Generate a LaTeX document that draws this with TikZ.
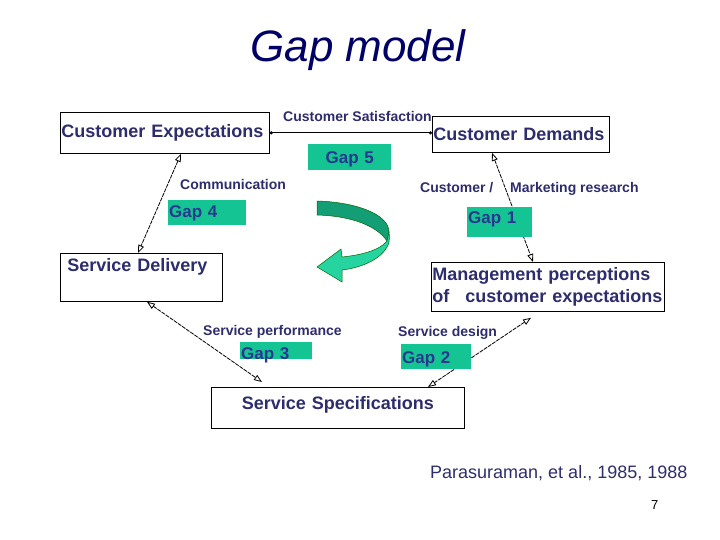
\documentclass[tikz,border=0pt]{standalone}
\usepackage{fontspec}
\setmainfont{Liberation Sans}
\usetikzlibrary{arrows.meta}
\definecolor{inkblue}{RGB}{45,45,110}
\definecolor{gapblue}{RGB}{40,55,145}
\definecolor{titleblue}{RGB}{0,0,102}
\definecolor{gapgreen}{RGB}{20,196,146}
\definecolor{darkteal}{RGB}{20,158,118}
\definecolor{lightteal}{RGB}{38,212,160}
\tikzset{>=Triangle}

\begin{document}
\begin{tikzpicture}[x=1pt,y=-1pt,
  stage/.style={draw=black, line width=0.8pt, fill=white, anchor=north west,
    inner xsep=1pt, inner ysep=0pt, align=left, text=inkblue,
    font=\fontsize{18}{21.5}\selectfont\bfseries},
  gapbox/.style={fill=gapgreen, anchor=north west, inner xsep=1pt, inner ysep=0pt,
    align=left, text=gapblue, font=\fontsize{17}{20}\selectfont\bfseries},
  caption/.style={anchor=base west, inner sep=0pt, text=inkblue,
    font=\fontsize{14}{16}\selectfont\bfseries},
  link/.style={line width=0.8pt, dash pattern=on 4pt off 1pt,
    {Triangle[open,length=8pt,width=6pt]}-{Triangle[open,length=8pt,width=6pt]}}]

\useasboundingbox (0,0) rectangle (720,540);

% ================= Title =================
\node[anchor=base, inner sep=0pt, text=titleblue,
  font=\fontsize{44}{48}\selectfont\itshape] (title) at (358,62) {Gap model};

% ================= Stages =================
\node[stage, text width=207pt, text height=25pt, text depth=16pt]
  (custexp) at (60,112) {Customer Expectations};
\node[stage, text width=175pt, text height=24pt, text depth=12pt]
  (custdem) at (432,116) {Customer Demands};
\node[stage, inner xsep=7pt, text width=148pt, text height=18pt, text depth=30pt]
  (servdel) at (60,253) {Service Delivery};
\node[stage, text width=231pt, minimum height=49pt]
  (mgmt) at (431,262) {Management perceptions\\of\hspace{16pt}customer expectations};
\node[stage, align=center, text width=251pt, text height=22pt, text depth=19pt]
  (servspec) at (211,387) {Service Specifications};

% ================= Links =================
\draw[line width=1.2pt, {Circle[length=3pt]}-{Circle[length=3pt]}]
  (custexp.east) -- (custexp.east -| custdem.west);

\coordinate (g4top) at ([xshift=121pt]custexp.south west);
\coordinate (g4bot) at ([xshift=78pt]servdel.north west);
\draw[link] (g4top) -- (g4bot);

\coordinate (g1top) at ([xshift=60pt]custdem.south west);
\coordinate (g1bot) at ([xshift=102pt]mgmt.north west);
\draw[link] (g1top) -- (g1bot);

\coordinate (g3top) at ([xshift=87pt]servdel.south west);
\coordinate (g3bot) at ([xshift=51pt,yshift=5pt]servspec.north west);
\draw[link] (g3top) -- (g3bot);

\coordinate (g2top) at ([xshift=100pt,yshift=-6pt]mgmt.south west);
\coordinate (g2bot) at ([xshift=217pt]servspec.north west);
\draw[link] (g2top) -- (g2bot);

% ================= Gaps =================
\node[gapbox, align=center, text width=81pt, text height=19pt, text depth=7pt]
  (gap5) at (308,144) {Gap 5};
\node[gapbox, text width=76pt, text height=17pt, text depth=8pt]
  (gap4) at (168,200) {Gap 4};
\node[gapbox, text width=63pt, text height=16pt, text depth=14pt]
  (gap1) at (467,207) {Gap 1};
\node[gapbox, text width=70pt, text height=17pt, text depth=0pt]
  (gap3) at (240,342) {Gap 3};
\node[gapbox, text width=68pt, text height=19pt, text depth=6pt]
  (gap2) at (401,344) {Gap 2};

% ================= Captions =================
\node[caption] (satis) at (283,122) {Customer Satisfaction};
\node[caption] (comm) at (180,190) {Communication};
\node[caption] (custslash) at (420,193) {Customer /};
\node[caption] (market) at (510,193) {Marketing research};
\node[caption] (perf) at (203,335) {Service performance};
\node[caption] (design) at (398,336) {Service design};

\node[anchor=base west, inner sep=0pt, text=inkblue,
  font=\fontsize{18}{20}\selectfont] (ref) at (430,478) {Parasuraman, et al., 1985, 1988};
\node[anchor=base west, inner sep=0pt, font=\fontsize{13}{15}\selectfont]
  (page) at (651,509) {7};

% ================= Curved arrow =================
\draw[fill=darkteal, draw=black!60!green, line width=0.5pt]
  (317,201) .. controls (355,202) and (389,214) .. (389,232)
  -- (387,241)
  .. controls (377,226) and (352,216) .. (317,215)
  -- cycle;
\draw[fill=lightteal, draw=black!60!green, line width=0.5pt]
  (389,232) .. controls (390,240) and (389,244) .. (387,247)
  .. controls (380,260) and (360,268) .. (342,270)
  -- (342,282) -- (317,267) -- (341,249) -- (342,257)
  .. controls (362,255) and (380,250) .. (387,241)
  -- cycle;
\end{tikzpicture}
\end{document}
